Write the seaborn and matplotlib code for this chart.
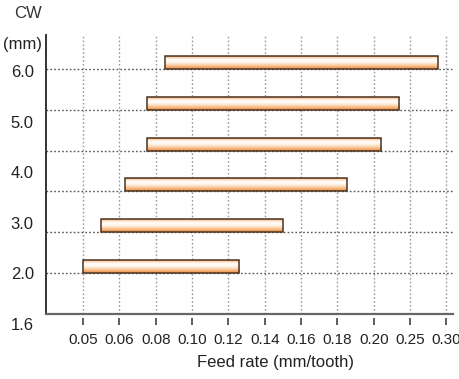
import numpy as np
import matplotlib
matplotlib.use("Agg")
import matplotlib.pyplot as plt
from matplotlib.colors import LinearSegmentedColormap
import seaborn as sns

# ---- data ----
feed_ticks = [0.05, 0.06, 0.08, 0.10, 0.12, 0.14, 0.16, 0.18, 0.20, 0.25, 0.30]
feed_tick_labels = ["0.05", "0.06", "0.08", "0.10", "0.12", "0.14", "0.16",
                    "0.18", "0.20", "0.25", "0.30"]
cw_labels = ["1.6", "2.0", "3.0", "4.0", "5.0", "6.0"]
# bars listed bottom -> top
feed_min = [0.050, 0.055, 0.063, 0.075, 0.075, 0.085]
feed_max = [0.126, 0.150, 0.185, 0.210, 0.235, 0.288]

sns.set_style("white")
plt.rcParams["font.family"] = ["Liberation Sans", "DejaVu Sans"]

fig = plt.figure(figsize=(4.6, 3.79), dpi=100)
ax = fig.add_axes([46 / 460, 1 - 314 / 379, 407 / 460, 279 / 379])

tick_pos = np.arange(len(feed_ticks))
left = np.interp(feed_min, feed_ticks, tick_pos)
right = np.interp(feed_max, feed_ticks, tick_pos)
ypos = np.arange(len(feed_min))

bars = ax.barh(ypos, right - left, left=left, height=0.32, align="edge",
               color="none", edgecolor="#4a3322", linewidth=1.1, zorder=4)

cmap = LinearSegmentedColormap.from_list(
    "barfill",
    [(0.0, "#e18d47"), (0.12, "#f4a866"), (0.3, "#fbd3ae"), (0.5, "#fff7f0"),
     (0.65, "#ffffff"), (0.8, "#fde0c6"), (0.92, "#f6b27a"), (1.0, "#f09a55")])
grad = np.linspace(0, 1, 64).reshape(-1, 1)
for p in bars:
    x0, y0 = p.get_x(), p.get_y()
    im = ax.imshow(grad, extent=[x0, x0 + p.get_width(), y0, y0 + p.get_height()],
                   origin="lower", aspect="auto", cmap=cmap, zorder=3,
                   interpolation="bilinear")
    im.set_clip_path(p)

ax.set_xlim(-1.02, 10.18)
ax.set_ylim(-1.0, 5.83)
ax.set_aspect("auto")

# grid lines
ax.set_xticks(tick_pos)
ax.set_yticks(ypos)
ax.set_xticklabels([])
ax.set_yticklabels([])
ax.tick_params(length=0)
ax.xaxis.grid(True, color="#999999", linestyle=(0, (1.2, 1.6)), linewidth=1)
ax.yaxis.grid(True, color="#555555", linestyle=(0, (1.2, 1.6)), linewidth=1)
ax.set_axisbelow(True)

for s in ["top", "right"]:
    ax.spines[s].set_visible(False)
ax.spines["left"].set_color("#333333")
ax.spines["left"].set_linewidth(1.4)
ax.spines["bottom"].set_color("#666666")
ax.spines["bottom"].set_linewidth(1.6)

# x tick labels on an offset secondary axis (ticks detached from the spine)
sec = ax.secondary_xaxis(-0.0143)
sec.set_xticks(tick_pos)
sec.set_xticklabels(feed_tick_labels)
sec.spines["bottom"].set_visible(False)
sec.tick_params(axis="x", length=5, width=1.1, color="#333333", pad=6,
                labelsize=11, labelcolor="#222222")

# y labels (evenly spaced, offset from the grid lines as in the reference)
label_step = 1.235
for i, lab in enumerate(cw_labels):
    ax.text(-0.03, -1.27 + i * label_step, lab, transform=ax.get_yaxis_transform(),
            ha="right", va="center", fontsize=12, color="#222222", clip_on=False)

fig.text(28 / 460, 1 - 13 / 379, "CW", ha="center", va="center", fontsize=12,
         color="#333333")
fig.text(23 / 460, 1 - 45 / 379, "(mm)", ha="center", va="center", fontsize=12,
         color="#222222")
fig.text(276 / 460, 1 - 362 / 379, "Feed rate (mm/tooth)", ha="center", va="center",
         fontsize=12, color="#222222")

fig.savefig("out.png", dpi=100)
